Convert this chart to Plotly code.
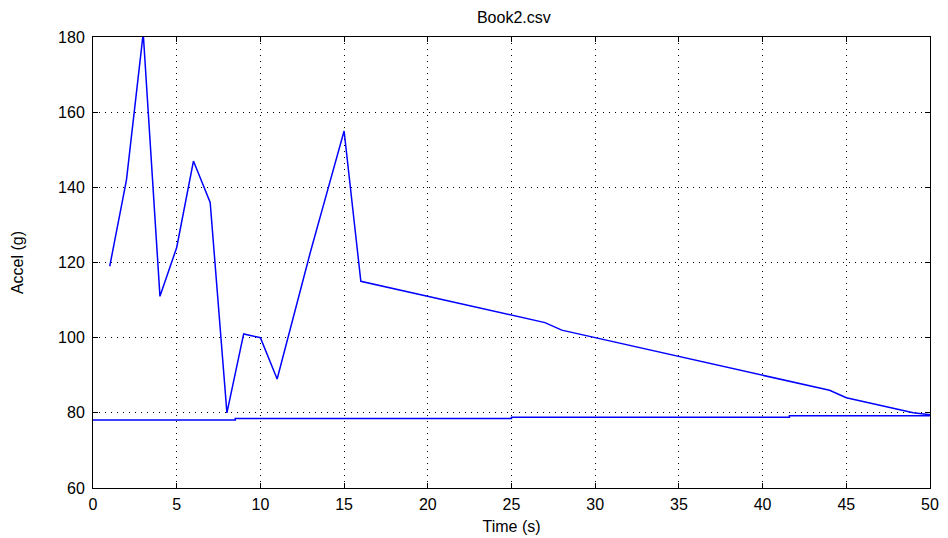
import plotly.graph_objects as go

# Upper series: acceleration vs time
time_s = list(range(1, 51))
accel_g = [119, 142, 181, 111, 124, 147, 136, 80, 101, 100,
           89, 106, 123, 139, 155, 115, 114, 113, 112, 111,
           110, 109, 108, 107, 106, 105, 104, 102, 101, 100,
           99, 98, 97, 96, 95, 94, 93, 92, 91, 90,
           89, 88, 87, 86, 84, 83, 82, 81, 80, 79.5]

# Lower (baseline) series, stepped
base_time = [0, 8.5, 25, 41.6, 50]
base_accel = [78.1, 78.5, 78.8, 79.2, 79.2]

x_ticks = [0, 5, 10, 15, 20, 25, 30, 35, 40, 45, 50]
y_ticks = [60, 80, 100, 120, 140, 160, 180]

FONT = "Liberation Sans Narrow, Liberation Sans, Arial, sans-serif"

fig = go.Figure()
fig.add_trace(go.Scatter(x=time_s, y=accel_g, mode="lines",
                         line=dict(color="#0000ff", width=1.5), showlegend=False))
fig.add_trace(go.Scatter(x=base_time, y=base_accel, mode="lines",
                         line=dict(color="#0000ff", width=1.5, shape="hv"), showlegend=False))

axis_common = dict(
    showline=True, linecolor="black", linewidth=1, mirror="ticks",
    ticks="inside", ticklen=5, tickcolor="black",
    showgrid=True, gridcolor="black", griddash="1px,5px", gridwidth=1,
    zeroline=False, automargin=False,
    tickfont=dict(family=FONT, size=16, color="black"),
)

fig.update_layout(
    width=948, height=538,
    margin=dict(l=93, r=18, t=37, b=50),
    paper_bgcolor="white", plot_bgcolor="white",
    title=dict(text="Book2.csv", x=0.542, xanchor="center", y=0.968, yanchor="middle",
               font=dict(family=FONT, size=16, color="black")),
    xaxis=dict(range=[0, 50], tickvals=x_ticks, ticktext=[str(v) for v in x_ticks],
               ticklabelstandoff=2,
               title=dict(text="Time (s)", font=dict(family=FONT, size=16, color="black"), standoff=8),
               **axis_common),
    yaxis=dict(range=[60, 180], tickvals=y_ticks, ticktext=[str(v) for v in y_ticks],
               ticklabelstandoff=4,
               title=dict(text="Accel (g)", font=dict(family=FONT, size=16, color="black"), standoff=30),
               **axis_common),
)

fig.write_html("out.html")
